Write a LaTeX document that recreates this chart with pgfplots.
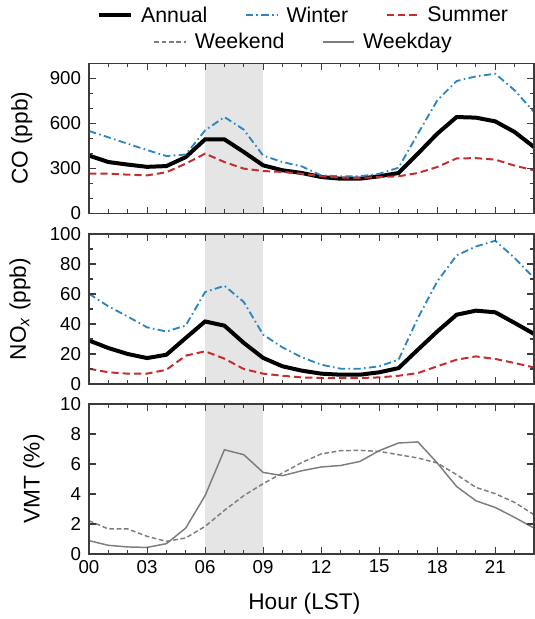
\documentclass[border=0pt]{standalone}
\usepackage{fontspec}
\setmainfont{Liberation Sans}
\usepackage{pgfplots}
\pgfplotsset{compat=1.18}

\definecolor{winterblue}{RGB}{46,134,193}
\definecolor{summerred}{RGB}{200,45,45}
\definecolor{vmtgray}{RGB}{125,125,125}
\definecolor{shade}{RGB}{229,229,229}
\definecolor{axisgray}{RGB}{60,60,60}

\pgfplotsset{
  panel/.style={
    scale only axis, width=333.75pt, height=112.5pt,
    xmin=0, xmax=23,
    xtick={0,3,...,21}, minor xtick={0,...,23},
    tick align=inside,
    major tick length=5pt, minor tick length=3pt,
    axis line style={axisgray, line width=0.8pt},
    tick style={axisgray, line width=0.8pt},
    tick label style={font=\fontsize{14}{16}\selectfont},
    yticklabel style={xshift=-2.5pt},
    xticklabel style={yshift=-1pt},
    /pgf/number format/assume math mode=true,
    label style={font=\fontsize{17}{20}\selectfont},
    axis on top,
    scaled y ticks=false,
    legend image code/.code={\draw[mark repeat=2,mark phase=2,##1] plot coordinates {(0cm,0cm) (0.42cm,0cm) (0.84cm,0cm)};},
  },
  annual/.style={black, line width=3pt},
  winter/.style={winterblue, line width=1.4pt, dash pattern=on 5.5pt off 2.5pt on 1.2pt off 2.5pt},
  summer/.style={summerred, line width=1.5pt, dash pattern=on 5.5pt off 3pt},
  weekend/.style={vmtgray, line width=1.1pt, dash pattern=on 3.5pt off 2pt},
  weekday/.style={vmtgray, line width=1.1pt},
}

\pgfplotstableread{
h co_an co_wi co_su no_an no_wi no_su vmt_wd vmt_we
0 385 549 264 29.0 60.2 10.2 0.89 2.22
1 342 507 264 24.0 51.8 7.8 0.58 1.67
2 325 464 258 20.0 45.0 6.9 0.47 1.67
3 310 422 253 17.3 37.8 6.9 0.44 1.18
4 315 382 274 19.5 35.0 9.5 0.69 0.84
5 375 392 331 30.7 39.0 18.9 1.73 1.07
6 493 553 398 41.7 61.3 21.8 3.89 1.84
7 493 642 342 38.9 65.5 16.9 6.95 2.91
8 409 558 298 27.4 54.7 10.0 6.62 3.89
9 320 385 282 17.4 32.9 6.9 5.44 4.69
10 287 342 276 11.8 24.4 5.5 5.22 5.40
11 269 313 264 8.9 17.8 4.4 5.55 6.10
12 242 253 247 6.9 12.9 4.0 5.80 6.67
13 231 247 238 6.2 10.2 4.0 5.90 6.89
14 231 247 236 6.2 10.2 4.0 6.17 6.91
15 247 264 242 7.8 11.8 4.4 6.89 6.84
16 269 304 247 10.6 16.2 5.5 7.40 6.62
17 398 531 269 22.9 44.0 7.3 7.47 6.40
18 531 753 309 35.0 68.4 11.8 6.07 6.07
19 642 882 366 46.2 85.7 16.2 4.50 5.29
20 638 913 368 48.9 91.7 18.4 3.55 4.44
21 613 931 358 47.8 95.5 16.7 3.10 4.02
22 542 820 318 40.7 84.0 14.0 2.44 3.44
23 442 676 287 33.4 70.7 11.0 1.73 2.62
}\diurnal

\begin{document}
\begin{tikzpicture}
\path[use as bounding box] (0,0) rectangle (401.25pt,-464.25pt);

% ---------- CO ----------
\begin{axis}[panel,
  at={(66.75pt,-160pt)}, anchor=south west,
  ymin=0, ymax=1000,
  ytick={0,300,600,900}, minor ytick={100,200,400,500,700,800,1000},
  xticklabels={},
  ylabel={CO (ppb)},
  ylabel style={at={(axis description cs:-0.151,0.5)}, anchor=center},
  legend columns=3,
  legend style={at={(0.483,1.32)}, anchor=center, draw=none, fill=none,
    font=\fontsize{16}{19}\selectfont,
    /tikz/every even column/.append style={column sep=26pt}},
]
\addplot[fill=shade, draw=none, forget plot] coordinates {(6,1000) (9,1000)} \closedcycle;
\addplot[annual] table[x=h, y=co_an] {\diurnal};
\addlegendentry{\hspace{4pt}Annual}
\addplot[winter] table[x=h, y=co_wi] {\diurnal};
\addlegendentry{\hspace{4pt}Winter}
\addplot[summer] table[x=h, y=co_su] {\diurnal};
\addlegendentry{\hspace{4pt}Summer}
\end{axis}

% ---------- NOx ----------
\begin{axis}[panel,
  at={(66.75pt,-288pt)}, anchor=south west,
  ymin=0, ymax=100,
  ytick={0,20,...,100}, minor ytick={10,30,...,90},
  xticklabels={},
  ylabel={NO\textsubscript{\textit{x}} (ppb)},
  ylabel style={at={(axis description cs:-0.155,0.5)}, anchor=center},
]
\addplot[fill=shade, draw=none] coordinates {(6,100) (9,100)} \closedcycle;
\addplot[annual] table[x=h, y=no_an] {\diurnal};
\addplot[winter] table[x=h, y=no_wi] {\diurnal};
\addplot[summer] table[x=h, y=no_su] {\diurnal};
\end{axis}

% ---------- VMT ----------
\begin{axis}[panel,
  at={(66.75pt,-415.5pt)}, anchor=south west,
  ymin=0, ymax=10,
  ytick={0,2,...,10},
  xticklabels={00,03,06,09,12,15,18,21},
  xlabel={Hour (LST)},
  xlabel style={at={(axis description cs:0.484,-0.333)}, anchor=center},
  ylabel={VMT (\%)},
  ylabel style={at={(axis description cs:-0.124,0.5)}, anchor=center},
  legend columns=2,
  legend style={at={(0.483,3.413)}, anchor=center, draw=none, fill=none,
    font=\fontsize{16}{19}\selectfont,
    /tikz/every even column/.append style={column sep=26pt}},
]
\addplot[fill=shade, draw=none, forget plot] coordinates {(6,10) (9,10)} \closedcycle;
\addplot[weekend] table[x=h, y=vmt_we] {\diurnal};
\addlegendentry{\hspace{4pt}Weekend}
\addplot[weekday] table[x=h, y=vmt_wd] {\diurnal};
\addlegendentry{\hspace{4pt}Weekday}
\end{axis}
\end{tikzpicture}
\end{document}
